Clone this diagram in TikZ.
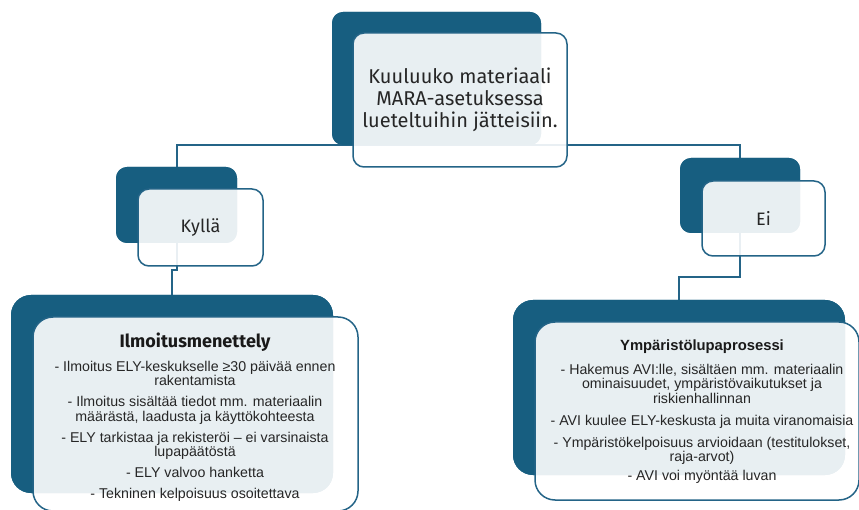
\documentclass[tikz,border=0pt]{standalone}
\usepackage{fontspec}
\setmainfont{Liberation Sans}
\newfontfamily\aptos{Fira Sans}
\definecolor{darkteal}{RGB}{23,94,128}
\definecolor{edgeteal}{RGB}{36,100,135}
\begin{document}
\begin{tikzpicture}[x=1pt,y=-1pt,
  darkbox/.style={fill=darkteal, draw=none, rounded corners=11pt, inner sep=0pt},
  lightbox/.style={fill=white, fill opacity=0.9, text opacity=1, draw=edgeteal, line width=1.5pt, rounded corners=11pt, inner sep=0pt},
  conn/.style={draw=edgeteal, line width=2pt},
  body/.style={align=center, inner sep=0pt, font=\fontsize{14.2}{14.5}\selectfont},
  question/.style={font=\aptos\fontsize{20}{22}\selectfont, align=center, text=black!85},
  answer/.style={font=\aptos\fontsize{18}{20}\selectfont, text=black!85}]
\useasboundingbox (0,0) rectangle (859,510);
% box geometry (dark back boxes)
\node[darkbox, minimum width=209pt, minimum height=133pt] (topD) at (436.5,78.5) {};
\node[darkbox, minimum width=121pt, minimum height=76pt] (kylD) at (176.5,205) {};
\node[darkbox, minimum width=120pt, minimum height=75pt] (eiD) at (740,195.5) {};
\node[darkbox, minimum width=322pt, minimum height=198pt, rounded corners=20pt] (ilmD) at (172,394) {};
\node[darkbox, minimum width=332pt, minimum height=175pt, rounded corners=20pt] (ympD) at (679,387.5) {};
% connectors
\draw[conn] (topD.south) -| (kylD.north);
\draw[conn] (topD.south) -| (eiD.north);
\draw[conn] (kylD.south) -- ++(0,27) coordinate (kj) -| (ilmD.north);
\draw[conn] (eiD.south) -- ++(0,44) coordinate (ej) -| (ympD.north);
% redraw dark boxes over connectors
\node[darkbox, minimum width=209pt, minimum height=133pt] at (topD) {};
\node[darkbox, minimum width=121pt, minimum height=76pt] at (kylD) {};
\node[darkbox, minimum width=120pt, minimum height=75pt] at (eiD) {};
\node[darkbox, minimum width=322pt, minimum height=198pt, rounded corners=20pt] at (ilmD) {};
\node[darkbox, minimum width=332pt, minimum height=175pt, rounded corners=20pt] at (ympD) {};
% light boxes
\node[lightbox, minimum width=214pt, minimum height=134pt, question] (topL) at (460,100)
  {Kuuluuko materiaali\\MARA-asetuksessa\\lueteltuihin jätteisiin.};
\node[lightbox, minimum width=125pt, minimum height=77pt, answer] (kylL) at (200.5,227.5) {Kyllä};
\node[lightbox, minimum width=123pt, minimum height=75pt, answer] (eiL) at (763.5,218.5) {Ei};
\node[lightbox, minimum width=325pt, minimum height=194pt, rounded corners=20pt] (ilmL) at (195.5,414) {};
\node[lightbox, minimum width=324pt, minimum height=178pt, rounded corners=20pt] (ympL) at (697,411) {};
% texts
\node[font=\aptos\bfseries\fontsize{18}{20}\selectfont, text=black!90] (ilmT) at (195,342) {Ilmoitusmenettely};
\node[body, anchor=north, text=black!85] (ilmB) at (195,361)
  {- Ilmoitus ELY-keskukselle \mbox{≥}30 päivää ennen\\rakentamista\\[6.5pt]
   - Ilmoitus sisältää tiedot mm. materiaalin\\määrästä, laadusta ja käyttökohteesta\\[6.5pt]
   - ELY tarkistaa ja rekisteröi – ei varsinaista\\lupapäätöstä\\[6.5pt]
   - ELY valvoo hanketta\\[6.5pt]
   - Tekninen kelpoisuus osoitettava};
\node[font=\bfseries\fontsize{14.8}{16}\selectfont, text=black!90] (ympT) at (702,347) {Ympäristölupaprosessi};
\node[body, anchor=north, text=black!85] (ympB) at (702,364)
  {- Hakemus AVI:lle, sisältäen mm. materiaalin\\ominaisuudet, ympäristövaikutukset ja\\riskienhallinnan\\[7.5pt]
   - AVI kuulee ELY-keskusta ja muita viranomaisia\\[7.5pt]
   - Ympäristökelpoisuus arvioidaan (testitulokset,\\raja-arvot)\\[4.5pt]
   - AVI voi myöntää luvan};
\end{tikzpicture}
\end{document}
